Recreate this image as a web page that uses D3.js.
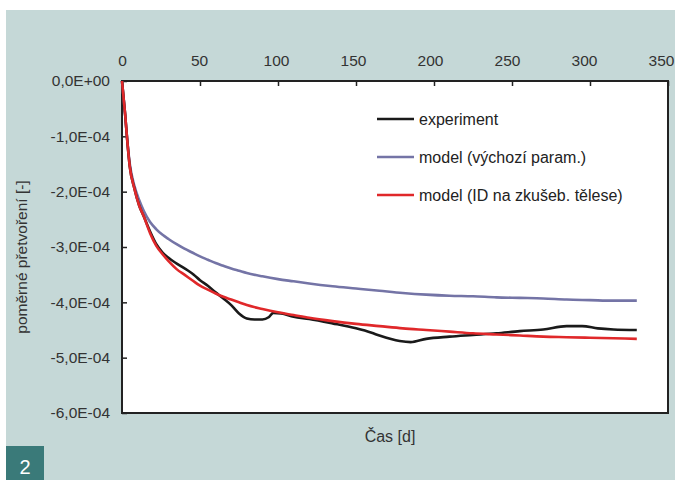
<!DOCTYPE html>
<html lang="cs">
<head>
<meta charset="UTF-8">
<title>Poměrné přetvoření</title>
<script src="https://d3js.org/d3.v7.min.js"></script>
<style>
    body { margin: 0; background: #fff; }
    svg { display: block; font-family: "Liberation Sans", Arial, sans-serif; }
    .axis text { font-size: 15.5px; fill: #333; }
    .axis path, .axis line { stroke: #222; }
</style>
</head>
<body>
<svg width="675" height="480"></svg>
<script>
    // values in units of 1e-4 (negative = shrinkage)
    const modelTime = [0,1,2,3,5,8,11,14,18,22,26,30,35,40,45,50,55,60,65,70,75,80,90,100,110,120,135,150,165,180,195,210,225,240,255,270,285,300,315,330];
    const modelDefault = [0,-0.3,-0.6,-0.95,-1.5,-1.9,-2.15,-2.35,-2.55,-2.68,-2.78,-2.86,-2.95,-3.03,-3.1,-3.17,-3.23,-3.29,-3.34,-3.39,-3.43,-3.47,-3.53,-3.58,-3.62,-3.66,-3.71,-3.75,-3.79,-3.83,-3.86,-3.88,-3.89,-3.91,-3.92,-3.93,-3.95,-3.96,-3.97,-3.97];
    const modelID = [0,-0.3,-0.6,-0.95,-1.55,-1.95,-2.25,-2.45,-2.75,-2.98,-3.13,-3.26,-3.4,-3.5,-3.6,-3.7,-3.77,-3.84,-3.9,-3.95,-4.0,-4.05,-4.12,-4.18,-4.23,-4.28,-4.34,-4.39,-4.43,-4.47,-4.5,-4.53,-4.56,-4.58,-4.6,-4.62,-4.63,-4.64,-4.65,-4.66];

    const expTime = [0,1,2,3,5,8,11,14,18,22,26,30,34,38,42,46,50,55,60,65,70,75,80,85,90,94,97,102,110,120,135,150,160,165,178,185,195,210,225,240,255,270,285,295,305,315,330];
    const experiment = [0,-0.3,-0.6,-0.95,-1.55,-1.95,-2.25,-2.45,-2.72,-2.95,-3.1,-3.2,-3.28,-3.35,-3.42,-3.5,-3.6,-3.7,-3.82,-3.93,-4.05,-4.2,-4.29,-4.31,-4.31,-4.27,-4.19,-4.2,-4.26,-4.3,-4.38,-4.47,-4.55,-4.6,-4.7,-4.72,-4.66,-4.62,-4.59,-4.56,-4.52,-4.49,-4.43,-4.43,-4.47,-4.49,-4.5];

    const xTicks = [0,50,100,150,200,250,300,350];
    const yTicks = [0,-1,-2,-3,-4,-5,-6];
    const yTickLabels = ["0,0E+00","-1,0E-04","-2,0E-04","-3,0E-04","-4,0E-04","-5,0E-04","-6,0E-04"];

    const seriesNames = ["experiment", "model (výchozí param.)", "model (ID na zkušeb. tělese)"];
    const seriesColors = ["#1a1a1a", "#7474a6", "#e0282a"];

    const svg = d3.select("svg");
    const plotLeft = 122, plotRight = 668, plotTop = 81, plotBottom = 413;

    // background panel
    svg.append("rect").attr("x", 6).attr("y", 10).attr("width", 669).attr("height", 470).attr("fill", "#c5d8d7");
    // figure number badge
    svg.append("rect").attr("x", 6).attr("y", 446).attr("width", 38).attr("height", 34).attr("fill", "#3a7a79");
    svg.append("text").attr("x", 25).attr("y", 474).attr("text-anchor", "middle")
        .attr("fill", "#fff").style("font-size", "20px").text("2");

    const xScale = d3.scaleLinear().domain([0, 350]).range([plotLeft, plotRight]);
    const yScale = d3.scaleLinear().domain([0, -6]).range([plotTop, plotBottom]);

    // plot area
    svg.append("rect").attr("x", plotLeft).attr("y", plotTop)
        .attr("width", plotRight - plotLeft).attr("height", plotBottom - plotTop)
        .attr("fill", "#fff").attr("stroke", "#222").attr("stroke-width", 2);

    // axes: x ticks on top, inward
    svg.append("g").attr("class", "axis")
        .attr("transform", `translate(0,${plotTop})`)
        .call(d3.axisTop(xScale).tickValues(xTicks).tickSizeInner(-5).tickSizeOuter(0).tickPadding(15))
        .call(g => g.select(".domain").remove())
        .call(g => g.selectAll("line").attr("stroke-width", 1.5))
        // labels in the original sit a little left of their ticks toward the right end
        .call(g => g.selectAll("text").attr("dx", d => -d / 350 * 7));

    svg.append("g").attr("class", "axis")
        .attr("transform", `translate(${plotLeft},0)`)
        .call(d3.axisLeft(yScale).tickValues(yTicks).tickFormat((d, i) => yTickLabels[i])
            .tickSizeInner(-5).tickSizeOuter(0).tickPadding(12))
        .call(g => g.select(".domain").remove())
        .call(g => g.selectAll("line").attr("stroke-width", 1.5));

    // lines
    const line = d3.line().x(d => xScale(d[0])).y(d => yScale(d[1])).curve(d3.curveMonotoneX);
    const plotData = [
        { t: modelTime, v: modelDefault, c: seriesColors[1] },
        { t: modelTime, v: modelID, c: seriesColors[2] },
        { t: expTime, v: experiment, c: seriesColors[0] }
    ];
    // draw order: blue, black, then red on top
    [plotData[0], plotData[2], plotData[1]].forEach(s => {
        svg.append("path")
            .datum(s.t.map((t, i) => [t, s.v[i]]))
            .attr("fill", "none").attr("stroke", s.c)
            .attr("stroke-width", 2.6).attr("stroke-linejoin", "round")
            .attr("d", line);
    });

    // legend
    const legend = svg.append("g").attr("transform", "translate(377,119)");
    seriesNames.forEach((name, i) => {
        const g = legend.append("g").attr("transform", `translate(0,${i * 38})`);
        g.append("line").attr("x1", 0).attr("x2", 37).attr("stroke", seriesColors[i]).attr("stroke-width", 2.6);
        g.append("text").attr("x", 42).attr("y", 5.5).attr("fill", "#222").style("font-size", "16px").text(name);
    });

    // axis titles
    svg.append("text").attr("x", 390).attr("y", 442).attr("text-anchor", "middle")
        .attr("fill", "#333").style("font-size", "16px").text("Čas [d]");
    svg.append("text").attr("transform", "translate(27,257) rotate(-90)").attr("text-anchor", "middle")
        .attr("fill", "#333").style("font-size", "15.5px").text("poměrné přetvoření [-]");
</script>
</body>
</html>
